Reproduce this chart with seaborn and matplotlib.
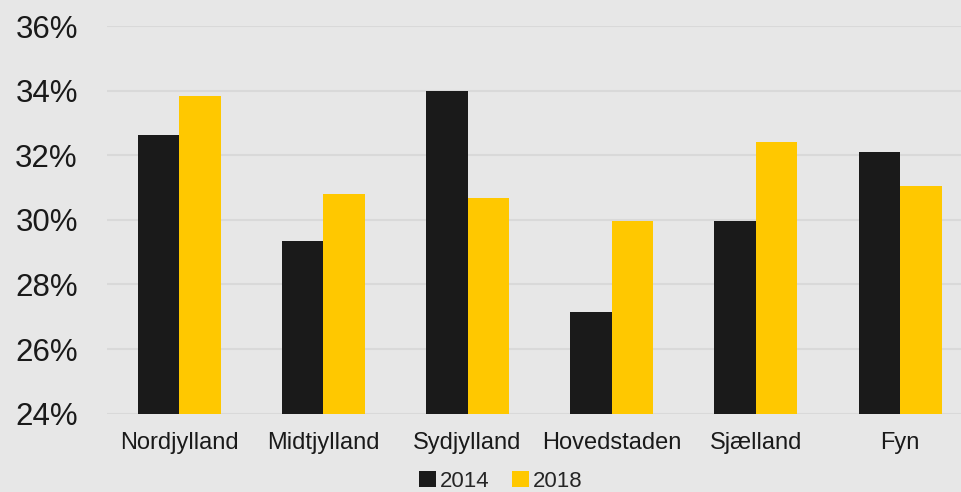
import matplotlib
matplotlib.use("Agg")
import matplotlib.pyplot as plt
import seaborn as sns
import pandas as pd
from matplotlib.ticker import FuncFormatter
from matplotlib.patches import Patch

regions = ["Nordjylland", "Midtjylland", "Sydjylland", "Hovedstaden", "Sjælland", "Fyn"]
v2014 = [32.62, 29.34, 34.0, 27.14, 29.96, 32.1]
v2018 = [33.82, 30.8, 30.67, 29.96, 32.41, 31.05]
years = ["2014", "2018"]
colors = ["#1a1a1a", "#ffc800"]

df = pd.DataFrame({
    "region": regions * 2,
    "year": [years[0]] * len(regions) + [years[1]] * len(regions),
    "value": v2014 + v2018,
})

sns.set_theme(style="white")
plt.rcParams["font.family"] = ["Liberation Sans", "DejaVu Sans"]
bg = "#e7e7e7"
fig = plt.figure(figsize=(9.61, 4.92), dpi=100, facecolor=bg)
ax = fig.add_axes([107 / 961, 1 - 413.7 / 492, 1 - 107 / 961, (413.7 - 26) / 492])
ax.set_facecolor(bg)

sns.barplot(data=df, x="region", y="value", hue="year", palette=colors,
            width=0.576, gap=0, ax=ax, legend=False, saturation=1)
for p in ax.patches:
    p.set_edgecolor("none")

ax.set_ylim(24, 36)
ax.set_xlim(-0.5, -0.5 + 854 / 144.2)
ax.set_yticks([24, 26, 28, 30, 32, 34, 36])
ax.yaxis.set_major_formatter(FuncFormatter(lambda v, p: f"{v:.0f}%"))
ax.grid(axis="y", color="#d9d9d9", linewidth=1.5, zorder=0)
ax.set_axisbelow(True)
for s in ax.spines.values():
    s.set_visible(False)
ax.tick_params(axis="y", length=0, labelsize=22.5, pad=21, labelcolor="#1a1a1a")
ax.tick_params(axis="x", length=0, labelsize=17, pad=13, labelcolor="#1a1a1a")
ax.set_xlabel("")
ax.set_ylabel("")

handles = [Patch(facecolor=c, edgecolor="none") for c in colors]
fig.legend(handles, years, loc="center", bbox_to_anchor=(501 / 961, 1 - 481.5 / 492),
           ncol=2, frameon=False, fontsize=16, handlelength=0.75, handleheight=0.75,
           handletextpad=0.2, columnspacing=1.0, borderpad=0)

fig.savefig("out.png", dpi=100, facecolor=bg)
